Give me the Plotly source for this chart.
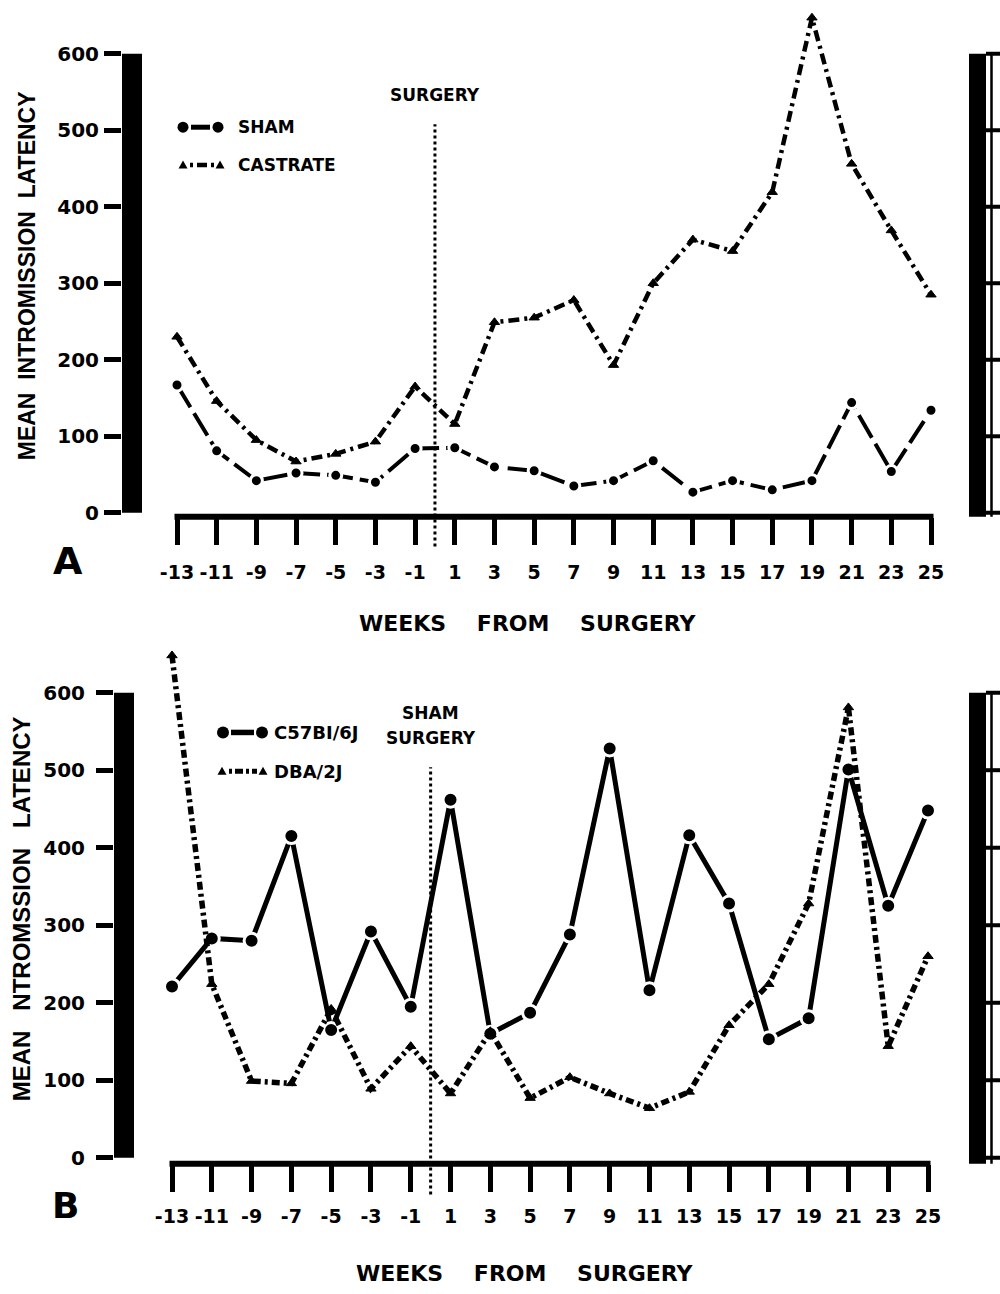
import plotly.graph_objects as go

# ---------------- data ----------------
weeks = [-13, -11, -9, -7, -5, -3, -1, 1, 3, 5, 7, 9, 11, 13, 15, 17, 19, 21, 23, 25]
week_labels = [str(w) for w in weeks]
latency_ticks = [0, 100, 200, 300, 400, 500, 600]
latency_labels = [str(v) for v in latency_ticks]
surgery_week = 0

# Panel A
sham_a = [167, 81, 42, 52, 49, 40, 84, 85, 60, 55, 35, 42, 68, 27, 42, 30, 42, 144, 54, 134]
castrate_a = [230, 146, 95, 67, 77, 93, 165, 116, 249, 255, 278, 193, 300, 357, 342, 419, 647, 456, 369, 285]

# Panel B
c57_b = [221, 283, 280, 415, 165, 292, 195, 462, 160, 187, 288, 528, 216, 416, 328, 153, 180, 501, 325, 448]
dba_b = [648, 224, 99, 96, 192, 89, 144, 83, 163, 77, 104, 83, 64, 85, 171, 224, 328, 581, 144, 260]

# ---------------- layout geometry (pixels) ----------------
W, H = 1000, 1294
FONT = "DejaVu Sans"
TFONT = "Liberation Sans"
NB = "\u00a0"

panels = {
    "A": dict(left=122, right=945, top=4, bottom=520, xfirst=177, xlast=931,
              y0=516, ytop=54, bar=20, frag_bottom=522),
    "B": dict(left=114, right=945, top=648, bottom=1171, xfirst=172, xlast=928,
              y0=1165, ytop=697, bar=20, frag_bottom=1176),
}


def geom(p):
    ppw = (p["xlast"] - p["xfirst"]) / (weeks[-1] - weeks[0])
    xr = [weeks[0] - (p["xfirst"] - p["left"]) / ppw, weeks[-1] + (p["right"] - p["xlast"]) / ppw]
    ppu = (p["y0"] - p["ytop"]) / latency_ticks[-1]
    yr = [-(p["bottom"] - p["y0"]) / ppu, (p["y0"] - p["top"]) / ppu]
    return xr, yr, ppw, ppu


def fy(px):
    return 1 - px / H


def fx(px):
    return px / W


fig = go.Figure()

# ---------------- traces ----------------
fig.add_trace(go.Scatter(
    x=weeks, y=sham_a, mode="lines+markers", name="SHAM", xaxis="x", yaxis="y",
    line=dict(color="black", width=4, dash="26px,7px"),
    marker=dict(symbol="circle", size=12, color="black", line=dict(color="white", width=3)),
    showlegend=False, cliponaxis=False))
fig.add_trace(go.Scatter(
    x=weeks, y=castrate_a, mode="lines+markers", name="CASTRATE", xaxis="x", yaxis="y",
    line=dict(color="black", width=4.5, dash="11px,5px,3px,5px"),
    marker=dict(symbol="triangle-up", size=9, color="black", line=dict(color="black", width=1)),
    showlegend=False, cliponaxis=False))
fig.add_trace(go.Scatter(
    x=weeks, y=c57_b, mode="lines+markers", name="C57BI/6J", xaxis="x2", yaxis="y2",
    line=dict(color="black", width=5),
    marker=dict(symbol="circle", size=15, color="black", line=dict(color="white", width=3)),
    showlegend=False, cliponaxis=False))
fig.add_trace(go.Scatter(
    x=weeks, y=dba_b, mode="lines+markers", name="DBA/2J", xaxis="x2", yaxis="y2",
    line=dict(color="black", width=5.5, dash="8px,4px,3px,4px"),
    marker=dict(symbol="triangle-up", size=9, color="black", line=dict(color="black", width=1)),
    showlegend=False, cliponaxis=False))

shapes = []
annotations = []
layout_axes = {}

for key, (xa, ya) in {"A": ("x", "y"), "B": ("x2", "y2")}.items():
    p = panels[key]
    xr, yr, ppw, ppu = geom(p)
    plot_w = p["right"] - p["left"]
    plot_h = p["bottom"] - p["top"]
    xname = "xaxis" if xa == "x" else "xaxis2"
    yname = "yaxis" if ya == "y" else "yaxis2"
    layout_axes[xname] = dict(
        domain=[fx(p["left"]), fx(p["right"])], anchor=ya, range=xr,
        tickmode="array", tickvals=weeks, ticktext=week_labels,
        ticks="outside", ticklen=27, tickwidth=5, tickcolor="black",
        showgrid=False, zeroline=False, showline=False,
        tickfont=dict(family=FONT, size=19, color="black", weight="bold"),
        ticklabelstandoff=11 if key == "A" else 8)
    layout_axes[yname] = dict(
        domain=[fy(p["bottom"]), fy(p["top"])], anchor=xa, range=yr,
        tickmode="array", tickvals=latency_ticks, ticktext=latency_labels,
        ticks="outside", ticklen=17, tickwidth=5, tickcolor="black",
        showgrid=False, zeroline=False, showline=False,
        tickfont=dict(family=FONT, size=20, color="black", weight="bold"),
        ticklabelstandoff=1 if key == "A" else 7)

    # thick vertical axis bar (0..600)
    shapes.append(dict(type="rect", xref=f"{xa} domain", yref=ya,
                       x0=0, x1=p["bar"] / plot_w, y0=latency_ticks[0], y1=latency_ticks[-1],
                       fillcolor="black", line=dict(width=0), layer="below"))
    # x-axis line spanning first..last week
    ext = 2.5 / ppw
    shapes.append(dict(type="line", xref=xa, yref=f"{ya} domain",
                       x0=weeks[0] - ext, x1=weeks[-1] + ext, y0=0, y1=0,
                       line=dict(color="black", width=6), layer="below"))
    # surgery dotted line
    top_px = 125 if key == "A" else 772
    bot_px = 550 if key == "A" else 1202
    shapes.append(dict(type="line", xref=xa, yref=f"{ya} domain",
                       x0=surgery_week, x1=surgery_week,
                       y0=(p["bottom"] - bot_px) / plot_h, y1=(p["bottom"] - top_px) / plot_h,
                       line=dict(color="black", width=3, dash="dot"), layer="below"))
    # fragment of neighbouring panel at right edge
    shapes.append(dict(type="rect", xref="paper", yref=ya,
                       x0=fx(969), x1=fx(986),
                       y0=-(p["frag_bottom"] - p["y0"]) / ppu, y1=latency_ticks[-1],
                       fillcolor="black", line=dict(width=0)))
    shapes.append(dict(type="line", xref="paper", yref=ya,
                       x0=fx(991.5), x1=fx(991.5),
                       y0=-(p["frag_bottom"] - p["y0"]) / ppu, y1=latency_ticks[-1],
                       line=dict(color="black", width=2.5)))
    for v in latency_ticks:
        shapes.append(dict(type="line", xref="paper", yref=ya,
                           x0=fx(986), x1=1.0, y0=v, y1=v,
                           line=dict(color="black", width=4)))

# ---------------- custom legend samples ----------------
def circle(cx, cy, r):
    return dict(type="circle", xref="paper", yref="paper",
                x0=fx(cx - r), x1=fx(cx + r), y0=fy(cy + r), y1=fy(cy - r),
                fillcolor="black", line=dict(width=0))


def tri(cx, cy, s):
    path = (f"M {fx(cx)},{fy(cy - s)} L {fx(cx + s)},{fy(cy + s * 0.8)} "
            f"L {fx(cx - s)},{fy(cy + s * 0.8)} Z")
    return dict(type="path", xref="paper", yref="paper", path=path,
                fillcolor="black", line=dict(width=0))


def seg(xa_, xb_, y, width, dash="solid"):
    return dict(type="line", xref="paper", yref="paper",
                x0=fx(xa_), x1=fx(xb_), y0=fy(y), y1=fy(y),
                line=dict(color="black", width=width, dash=dash))


# Panel A legend
shapes += [circle(183, 128, 5.5), circle(218, 128, 5.5), seg(191, 210, 128, 5)]
shapes += [tri(183, 166, 4.5), tri(220, 166, 4.5), seg(190, 214, 166, 4.5, "3px,4px,10px,4px")]
# Panel B legend
shapes += [circle(223, 737, 6), circle(262, 737, 6), seg(231, 254, 737, 5.5)]
shapes += [tri(222, 776, 4.5), tri(263, 776, 4.5), seg(229, 257, 776, 5, "3px,3px,8px,3px")]

def ann(text, x, y, size, xanchor="center", family=FONT, angle=0, xref="paper"):
    return dict(text=text, x=x, y=y, xref=xref, yref="paper", showarrow=False,
                xanchor=xanchor, yanchor="middle", textangle=angle,
                font=dict(family=family, size=size, color="black", weight="bold"))

annotations += [
    ann("SHAM", fx(236), fy(128), 17, "left"),
    ann("CASTRATE", fx(236), fy(166), 17, "left"),
    ann("C57BI/6J", fx(272), fy(737), 18, "left"),
    ann("DBA/2J", fx(272), fy(776), 18, "left"),
    ann("SURGERY", surgery_week, fy(96), 17, xref="x"),
    ann("SHAM", surgery_week, fy(717), 17, xref="x2"),
    ann("SURGERY", surgery_week, fy(743), 17, xref="x2"),
    ann(f"WEEKS{NB*4}FROM{NB*4}SURGERY", fx(528), fy(627), 22),
    ann(f"WEEKS{NB*4}FROM{NB*4}SURGERY", fx(525), fy(1281), 22),
    ann(f"MEAN{NB*2}INTROMISSION{NB*2}LATENCY", fx(27), fy(278), 23, family=TFONT, angle=-90),
    ann(f"MEAN{NB*3}NTROMSSION{NB*3}LATENCY", fx(21), fy(915), 24, family=TFONT, angle=-90),
    ann("A", fx(68), fy(564), 38),
    ann("B", fx(65), fy(1213), 36),
]

fig.update_layout(
    width=W, height=H, margin=dict(l=0, r=0, t=0, b=0),
    paper_bgcolor="white", plot_bgcolor="white",
    shapes=shapes, annotations=annotations, showlegend=False,
    **layout_axes)

fig.write_html("out.html")
